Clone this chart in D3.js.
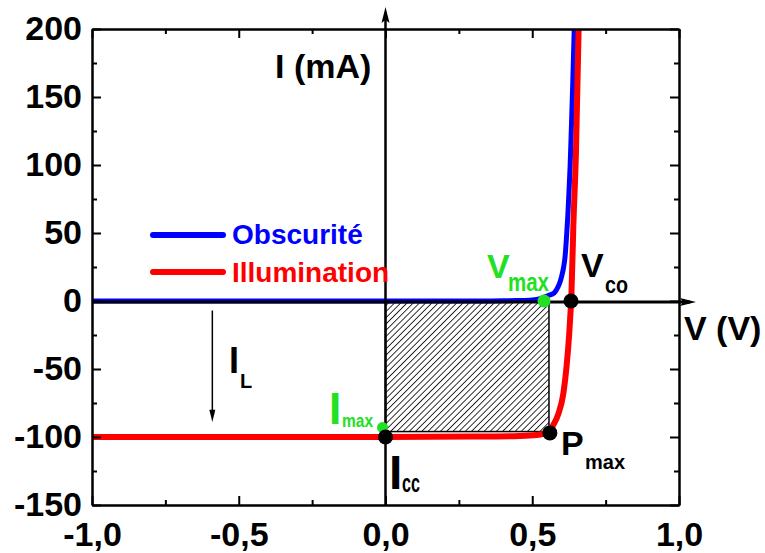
<!DOCTYPE html>
<html>
<head>
<meta charset="utf-8">
<script src="https://cdn.jsdelivr.net/npm/d3@7"></script>
<style>
  html, body { margin: 0; padding: 0; background: #fff; }
  svg { display: block; }
  text { font-family: "Liberation Sans", Arial, sans-serif; font-weight: bold; }
</style>
</head>
<body>
<svg id="chart" width="765" height="553"></svg>
<script>
// ---------- data ----------
const xMajor = [-1, -0.5, 0, 0.5, 1];
const xLabels = ["-1,0", "-0,5", "0,0", "0,5", "1,0"];
const xMinor = [-0.75, -0.25, 0.25, 0.75];
const yMajor = [-150, -100, -50, 0, 50, 100, 150, 200];
const yLabels = ["-150", "-100", "-50", "0", "50", "100", "150", "200"];
const yMinor = [-125, -75, -25, 25, 75, 125, 175];

// Obscurité (dark) curve
const darkV = [-1, -0.5, 0, 0.3, 0.4, 0.45, 0.5, 0.53, 0.555, 0.575, 0.583, 0.593, 0.6, 0.607, 0.612, 0.617, 0.621, 0.625, 0.629, 0.633, 0.638, 0.643, 0.646];
const darkI = [0, 0, 0, 0, 0.1, 0.3, 0.8, 2, 4, 6, 8.5, 13, 18, 25, 33, 48, 62, 80, 99, 125, 160, 200, 225];

// Illumination curve
const lightV = [-1, -0.5, 0, 0.3, 0.458, 0.515, 0.555, 0.572, 0.589, 0.606, 0.617, 0.626, 0.631, 0.6335, 0.640, 0.649, 0.658, 0.661];
const lightI = [-100, -100, -100, -99.7, -99.2, -98.5, -96, -91, -83, -68, -48, -24, -6, 5, 55, 110, 200, 225];

// special points
const greenPtsV = [0.54, -0.01];
const greenPtsI = [0, -93];
const blackPtsV = [0, 0.56, 0.632];
const blackPtsI = [-100, -97, 0];

// maximum power rectangle
const rectV = [0, 0.557];
const rectI = [0, -96];

// ---------- layout ----------
const svg = d3.select("#chart");
const x = d3.scaleLinear().domain([-1, 1]).range([92, 679]);
const y = d3.scaleLinear().domain([-150, 200]).range([505, 29]);
const FONT = '"Liberation Sans", Arial, sans-serif';
const GREEN = "#22e022";

const defs = svg.append("defs");
defs.append("clipPath").attr("id", "plotclip")
  .append("rect").attr("x", x(-1)).attr("y", y(200)).attr("width", x(1) - x(-1)).attr("height", y(-150) - y(200));
const pat = defs.append("pattern").attr("id", "hatch")
  .attr("patternUnits", "userSpaceOnUse").attr("width", 4.4).attr("height", 4.4)
  .attr("patternTransform", "rotate(45)");
pat.append("line").attr("x1", 0).attr("y1", 0).attr("x2", 0).attr("y2", 4.4)
  .attr("stroke", "#000").attr("stroke-width", 1.6);

// hatch rectangle
svg.append("rect")
  .attr("x", x(rectV[0])).attr("y", y(rectI[0]))
  .attr("width", x(rectV[1]) - x(rectV[0])).attr("height", y(rectI[1]) - y(rectI[0]))
  .attr("fill", "url(#hatch)").attr("stroke", "#000").attr("stroke-width", 1.5);

// curves
const line = d3.line().x(d => x(d[0])).y(d => y(d[1])).curve(d3.curveMonotoneX);
const plot = svg.append("g").attr("clip-path", "url(#plotclip)");
plot.append("path").datum(darkV.map((v, i) => [v, darkI[i]]))
  .attr("d", line).attr("fill", "none").attr("stroke", "#0000ff").attr("stroke-width", 5);
plot.append("path").datum(lightV.map((v, i) => [v, lightI[i]]))
  .attr("d", line).attr("fill", "none").attr("stroke", "#ff0000").attr("stroke-width", 6);

// axes (frame)
function styleAxis(g) {
  g.attr("font-size", 34).attr("font-family", FONT).attr("font-weight", "bold").attr("color", "#000");
  g.selectAll("path.domain").attr("stroke-width", 2);
  g.selectAll(".tick line").attr("stroke-width", 2);
}
svg.append("g").attr("transform", `translate(0,${y(-150)})`)
  .call(d3.axisBottom(x).tickValues(xMajor).tickFormat((d, i) => xLabels[i]).tickSize(-9).tickSizeOuter(0).tickPadding(17))
  .call(styleAxis);
svg.append("g").attr("transform", `translate(0,${y(-150)})`)
  .call(d3.axisBottom(x).tickValues(xMinor).tickFormat("").tickSize(-5).tickSizeOuter(0))
  .call(styleAxis);
svg.append("g").attr("transform", `translate(0,${y(200)})`)
  .call(d3.axisTop(x).tickValues(xMajor).tickFormat("").tickSize(-9).tickSizeOuter(0))
  .call(styleAxis);
svg.append("g").attr("transform", `translate(0,${y(200)})`)
  .call(d3.axisTop(x).tickValues(xMinor).tickFormat("").tickSize(-5).tickSizeOuter(0))
  .call(styleAxis);
svg.append("g").attr("transform", `translate(${x(-1)},0)`)
  .call(d3.axisLeft(y).tickValues(yMajor).tickFormat((d, i) => yLabels[i]).tickSize(-9).tickSizeOuter(0).tickPadding(10))
  .call(styleAxis);
svg.append("g").attr("transform", `translate(${x(-1)},0)`)
  .call(d3.axisLeft(y).tickValues(yMinor).tickFormat("").tickSize(-5).tickSizeOuter(0))
  .call(styleAxis);
svg.append("g").attr("transform", `translate(${x(1)},0)`)
  .call(d3.axisRight(y).tickValues(yMajor).tickFormat("").tickSize(-9).tickSizeOuter(0))
  .call(styleAxis);
svg.append("g").attr("transform", `translate(${x(1)},0)`)
  .call(d3.axisRight(y).tickValues(yMinor).tickFormat("").tickSize(-5).tickSizeOuter(0))
  .call(styleAxis);

// zero axes with arrows
const y0 = y(0) + 1, x0 = x(0);
svg.append("line").attr("x1", x(-1)).attr("x2", 690).attr("y1", y0).attr("y2", y0)
  .attr("stroke", "#000").attr("stroke-width", 3);
svg.append("path").attr("d", `M${696},${y0} L${680},${y0 - 4} L${683},${y0} L${680},${y0 + 4} Z`).attr("fill", "#000");
svg.append("line").attr("x1", x0).attr("x2", x0).attr("y1", y(-150)).attr("y2", 14)
  .attr("stroke", "#000").attr("stroke-width", 2.5);
svg.append("path").attr("d", `M${x0},${7} L${x0 - 4},${23} L${x0},${20} L${x0 + 4},${23} Z`).attr("fill", "#000");

// I_L arrow
const ilX = x(-0.59);
svg.append("line").attr("x1", ilX).attr("x2", ilX).attr("y1", y(-7)).attr("y2", y(-82))
  .attr("stroke", "#000").attr("stroke-width", 1.5);
svg.append("path").attr("d", `M${ilX},${y(-89)} L${ilX - 3},${y(-80)} L${ilX + 3},${y(-80)} Z`).attr("fill", "#000");

// points
svg.selectAll("circle.g").data(greenPtsV).join("circle").attr("class", "g")
  .attr("cx", (d) => x(d)).attr("cy", (d, i) => y(greenPtsI[i])).attr("r", (d, i) => i === 0 ? 6.5 : 5.5)
  .attr("fill", GREEN);
svg.selectAll("circle.b").data(blackPtsV).join("circle").attr("class", "b")
  .attr("cx", (d) => x(d)).attr("cy", (d, i) => y(blackPtsI[i])).attr("r", 7.5)
  .attr("fill", "#000");

// legend
svg.append("line").attr("x1", 153).attr("x2", 223).attr("y1", 235).attr("y2", 235)
  .attr("stroke", "#0000ff").attr("stroke-width", 6).attr("stroke-linecap", "round");
svg.append("text").attr("x", 232).attr("y", 244).attr("font-size", 28).attr("fill", "#0000ff").text("Obscurité");
svg.append("line").attr("x1", 153).attr("x2", 223).attr("y1", 272).attr("y2", 272)
  .attr("stroke", "#ff0000").attr("stroke-width", 6).attr("stroke-linecap", "round");
svg.append("text").attr("x", 232).attr("y", 281.5).attr("font-size", 28).attr("fill", "#ff0000").text("Illumination");

// axis titles
svg.append("text").attr("x", 275).attr("y", 78).attr("font-size", 34).text("I (mA)");
svg.append("text").attr("x", 684).attr("y", 340).attr("font-size", 34).text("V (V)");

// annotations
function label(main, sub, mx, my, msize, sx, sy, ssize, slen, color) {
  svg.append("text").attr("x", mx).attr("y", my).attr("font-size", msize).attr("fill", color).text(main);
  const t = svg.append("text").attr("x", sx).attr("y", sy).attr("font-size", ssize).attr("fill", color).text(sub);
  if (slen) t.attr("textLength", slen).attr("lengthAdjust", "spacingAndGlyphs");
}
label("V", "max", 487, 278, 34, 508, 291, 26, 41, GREEN);
label("V", "co", 581, 277, 34, 605, 293, 24, 23, "#000");
label("P", "max", 561, 455, 34, 585, 469, 21, 40, "#000");
label("I", "max", 329, 424, 44, 342, 427, 19, 31, GREEN);
label("I", "cc", 389, 489, 48, 402, 492, 25, 18, "#000");
label("I", "L", 229, 373, 36, 240, 388, 20, null, "#000");
</script>
</body>
</html>
